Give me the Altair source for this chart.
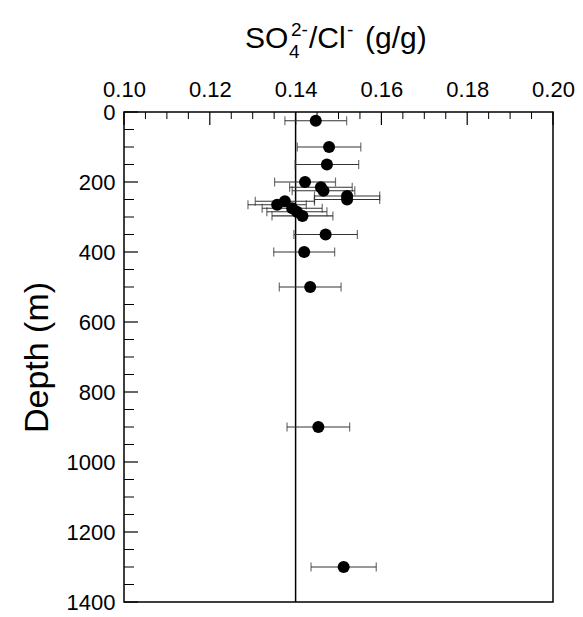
import altair as alt
import pandas as pd

# ---- data ----
depth = [25, 100, 150, 200, 215, 225, 240, 250, 255, 265, 275, 285, 297, 350, 400, 500, 900, 1300]
ratio = [0.1447, 0.1478, 0.1473, 0.1422, 0.1459, 0.1465, 0.1520, 0.1520, 0.1375, 0.1357,
         0.1392, 0.1403, 0.1416, 0.1470, 0.1420, 0.1434, 0.1453, 0.1512]
err = [0.0072, 0.0074, 0.0074, 0.0071, 0.0073, 0.0073, 0.0076, 0.0076, 0.0069, 0.0068,
       0.0070, 0.0070, 0.0071, 0.0074, 0.0071, 0.0072, 0.0073, 0.0076]

ref_line = [0.14]

x_major = [0.10, 0.12, 0.14, 0.16, 0.18, 0.20]
x_minor = [0.105, 0.11, 0.115, 0.125, 0.13, 0.135, 0.145, 0.15, 0.155,
           0.165, 0.17, 0.175, 0.185, 0.19, 0.195]
y_major = [0, 200, 400, 600, 800, 1000, 1200, 1400]
y_minor = [50, 100, 150, 250, 300, 350, 450, 500, 550, 650, 700, 750, 850, 900, 950,
           1050, 1100, 1150, 1250, 1300, 1350]

title_parts = ["SO", "4", "2-", "/Cl", "-", "(g/g)"]

FONT = "Liberation Sans"
W, H = 429, 490

df = pd.DataFrame({"depth": depth, "ratio": ratio, "err": err})
df["lo"] = df["ratio"] - df["err"]
df["hi"] = df["ratio"] + df["err"]

xs = alt.Scale(domain=[0.10, 0.20], nice=False, zero=False)
ys = alt.Scale(domain=[0, 1400], reverse=True, nice=False, zero=False)

x_axis = alt.Axis(orient="top", values=x_major, format=".2f", ticks=False, domain=False,
                  grid=False, title=None, labelFontSize=22, labelFont=FONT,
                  labelColor="black", labelPadding=11, labelFlush=False)
y_axis = alt.Axis(values=y_major, format="d", ticks=False, domain=False, grid=False,
                  title="Depth (m)", titleFontSize=34, titleFont=FONT,
                  titleFontWeight="normal", titleColor="black", titlePadding=12,
                  labelFontSize=22, labelFont=FONT, labelColor="black",
                  labelPadding=9, labelFlush=False)


def X(field):
    return alt.X(field, scale=xs, axis=x_axis)


def Y(field):
    return alt.Y(field, scale=ys, axis=y_axis)


bars = alt.Chart(df).mark_rule(color="#333333", strokeWidth=1.2).encode(
    x=X("lo:Q"), x2="hi:Q", y=Y("depth:Q"),
)
caps_lo = alt.Chart(df).mark_tick(color="#333333", orient="vertical", size=9, thickness=1.2).encode(
    x=X("lo:Q"), y=Y("depth:Q"),
)
caps_hi = alt.Chart(df).mark_tick(color="#333333", orient="vertical", size=9, thickness=1.2).encode(
    x=X("hi:Q"), y=Y("depth:Q"),
)
points = alt.Chart(df).mark_circle(size=145, color="black", opacity=1).encode(
    x=X("ratio:Q"), y=Y("depth:Q"),
)
vline = alt.Chart(pd.DataFrame({"v": ref_line})).mark_rule(color="black", strokeWidth=1.5).encode(
    x=X("v:Q"),
)

xt_major = alt.Chart(pd.DataFrame({"t": x_major})).mark_rule(color="black", strokeWidth=1.2).encode(
    x=X("t:Q"), y=alt.value(0), y2=alt.value(13))
xt_minor = alt.Chart(pd.DataFrame({"t": x_minor})).mark_rule(color="black", strokeWidth=1).encode(
    x=X("t:Q"), y=alt.value(0), y2=alt.value(7))
yt_major = alt.Chart(pd.DataFrame({"t": y_major})).mark_rule(color="black", strokeWidth=1.2).encode(
    y=Y("t:Q"), x=alt.value(0), x2=alt.value(14))
yt_minor = alt.Chart(pd.DataFrame({"t": y_minor})).mark_rule(color="black", strokeWidth=1).encode(
    y=Y("t:Q"), x=alt.value(0), x2=alt.value(10))

# composed title  SO4^(2-)/Cl^(-) (g/g)
MAIN, SMALL = 30, 19
title_layout = [  # (x, y baseline, size) in plot coordinates
    (121, -64, MAIN),
    (165, -54, SMALL),
    (167, -76, SMALL),
    (185, -64, MAIN),
    (223, -76, SMALL),
    (241, -64, MAIN),
]
title_layers = []
for part, (tx, ty, fs) in zip(title_parts, title_layout):
    title_layers.append(
        alt.Chart(pd.DataFrame({"s": [part]})).mark_text(
            font=FONT, fontSize=fs, align="left", baseline="alphabetic", color="black"
        ).encode(text="s:N", x=alt.value(tx), y=alt.value(ty))
    )

chart = alt.layer(
    vline, xt_major, xt_minor, yt_major, yt_minor, bars, caps_lo, caps_hi, points, *title_layers
).properties(
    width=W, height=H,
    autosize=alt.AutoSizeParams(type="none"),
    padding={"left": 124, "top": 112, "right": 30, "bottom": 15},
    background="white",
).configure_view(
    stroke="black", strokeWidth=1.5
)

chart.save("out.html", embed_options={"renderer": "svg", "actions": False})
